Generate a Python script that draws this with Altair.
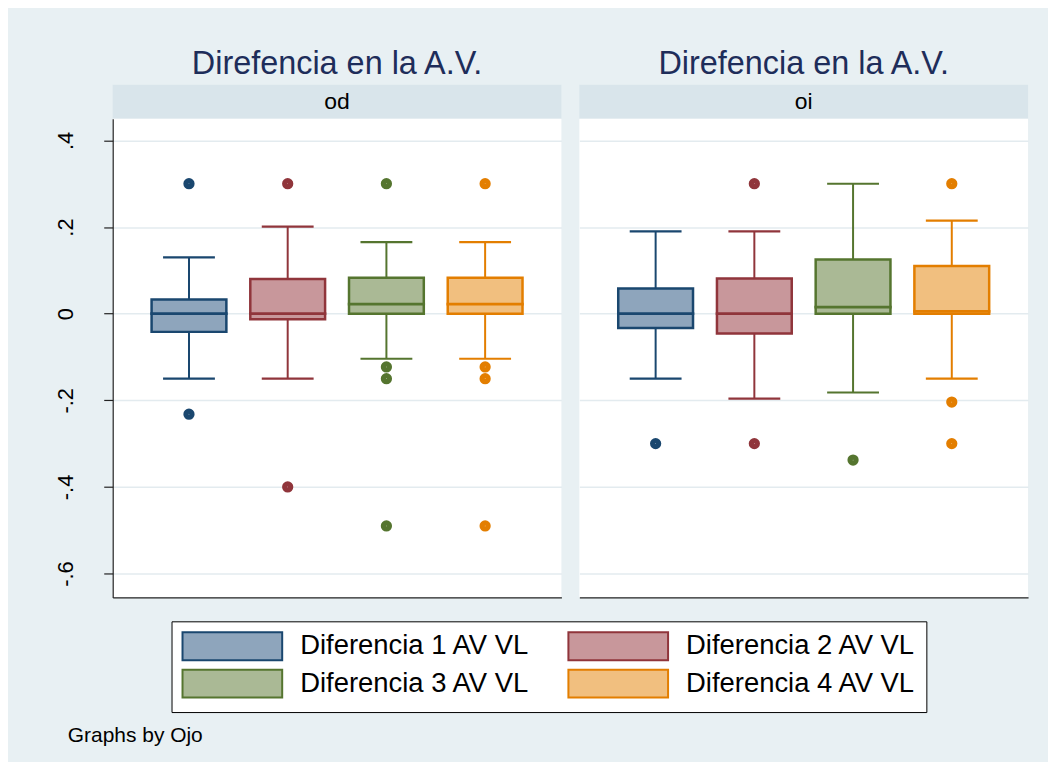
import altair as alt
import pandas as pd

# ---------------- data ----------------
series = ["Diferencia 1 AV VL", "Diferencia 2 AV VL", "Diferencia 3 AV VL", "Diferencia 4 AV VL"]
fill_colors = ["#8ea5bc", "#c8979b", "#aab995", "#f1bf7f"]
stroke_colors = ["#1a476f", "#90353b", "#55752f", "#e37e00"]

panel_names = ["od", "oi"]
panel_title = "Direfencia en la A.V."

od_whisker_low = [-0.150, -0.150, -0.104, -0.104]
od_q1 = [-0.042, -0.013, 0.000, 0.000]
od_median = [0.000, 0.000, 0.022, 0.022]
od_q3 = [0.033, 0.080, 0.083, 0.083]
od_whisker_high = [0.130, 0.201, 0.165, 0.165]
od_outliers = [[0.30, -0.232], [0.30, -0.40], [0.30, -0.123, -0.15, -0.49], [0.30, -0.123, -0.15, -0.49]]

oi_whisker_low = [-0.150, -0.196, -0.182, -0.150]
oi_q1 = [-0.033, -0.046, 0.000, 0.000]
oi_median = [0.000, 0.000, 0.015, 0.0055]
oi_q3 = [0.058, 0.081, 0.125, 0.110]
oi_whisker_high = [0.190, 0.190, 0.300, 0.215]
oi_outliers = [[-0.30], [0.30, -0.30], [-0.338], [0.30, -0.204, -0.30]]

tick_values = [-0.6, -0.4, -0.2, 0.0, 0.2, 0.4]
tick_labels = ["-.6", "-.4", "-.2", "0", ".2", ".4"]

footnote = "Graphs by Ojo"

# ---------------- styling ----------------
FONT = "Liberation Sans"
BG = "#e8f0f3"
STRIP = "#d9e5eb"
GRID = "#e3ebef"
PW, PH, SH = 450, 480, 34
Y_DOMAIN = [-0.655, 0.45]

label_expr = "".join(
    f"datum.value > {v - 0.01} && datum.value < {v + 0.01} ? '{t}' : " for v, t in zip(tick_values, tick_labels)
) + "''"


def make_panel(name, lo, q1, med, q3, hi, outl, show_axis):
    box_df = pd.DataFrame({"serie": series, "lo": lo, "q1": q1, "med": med, "q3": q3, "hi": hi})
    pts_df = pd.DataFrame([{"serie": s, "v": v} for s, vals in zip(series, outl) for v in vals])

    x = alt.X(
        "serie:N",
        sort=series,
        scale=alt.Scale(domain=series, paddingInner=0, paddingOuter=0.2727),
        axis=alt.Axis(labels=False, ticks=False, title=None, grid=False,
                      domain=True, domainColor="#222222", domainWidth=1.2),
    )
    if show_axis:
        yaxis = alt.Axis(values=tick_values, labelExpr=label_expr, title=None, grid=True,
                         gridColor=GRID, gridWidth=1.5, tickSize=9, tickColor="#222222",
                         tickWidth=1.2, domain=True, domainColor="#222222", domainWidth=1.2,
                         labelAngle=270, labelAlign="center", labelBaseline="bottom",
                         labelPadding=26, labelFontSize=22, labelColor="black", labelFont=FONT)
    else:
        yaxis = alt.Axis(values=tick_values, labels=False, ticks=False, domain=False, title=None,
                         grid=True, gridColor=GRID, gridWidth=1.5)
    yscale = alt.Scale(domain=Y_DOMAIN, nice=False, zero=False)

    fill_enc = alt.Fill("serie:N", scale=alt.Scale(domain=series, range=fill_colors), title=None)
    stroke_enc = alt.Stroke("serie:N", scale=alt.Scale(domain=series, range=stroke_colors), title=None)

    base = alt.Chart(box_df)
    box = base.mark_bar(size=75, strokeWidth=2.5, opacity=1).encode(
        x=x, y=alt.Y("q1:Q", scale=yscale, axis=yaxis), y2="q3:Q", fill=fill_enc, stroke=stroke_enc)
    whisk_up = base.mark_rule(strokeWidth=2).encode(
        x=x, y=alt.Y("q3:Q", scale=yscale, axis=yaxis), y2="hi:Q", stroke=stroke_enc)
    whisk_dn = base.mark_rule(strokeWidth=2).encode(
        x=x, y=alt.Y("lo:Q", scale=yscale, axis=yaxis), y2="q1:Q", stroke=stroke_enc)
    median = base.mark_tick(orient="horizontal", size=75, thickness=0.2, filled=False,
                            strokeWidth=2.5, opacity=1).encode(
        x=x, y=alt.Y("med:Q", scale=yscale, axis=yaxis), stroke=stroke_enc)
    cap_lo = base.mark_tick(orient="horizontal", size=50, thickness=0.2, filled=False,
                            strokeWidth=2, opacity=1).encode(
        x=x, y=alt.Y("lo:Q", scale=yscale, axis=yaxis), stroke=stroke_enc)
    cap_hi = base.mark_tick(orient="horizontal", size=50, thickness=0.2, filled=False,
                            strokeWidth=2, opacity=1).encode(
        x=x, y=alt.Y("hi:Q", scale=yscale, axis=yaxis), stroke=stroke_enc)
    points = alt.Chart(pts_df).mark_point(shape="circle", filled=False, size=28, strokeWidth=6,
                                          opacity=1).encode(
        x=x, y=alt.Y("v:Q", scale=yscale, axis=yaxis), stroke=stroke_enc)

    plot = alt.layer(box, whisk_up, whisk_dn, median, cap_lo, cap_hi, points).properties(
        width=PW, height=PH, view=alt.ViewBackground(fill="white", strokeWidth=0))

    strip = alt.Chart(pd.DataFrame({"ojo": [name]})).mark_text(
        fontSize=23, font=FONT, color="black", baseline="middle", align="center"
    ).encode(text="ojo:N").properties(
        width=PW, height=SH, view=alt.ViewBackground(fill=STRIP, strokeWidth=0))

    title_dx = 29 if show_axis else 0
    return alt.vconcat(strip, plot, spacing=0, bounds="flush").properties(
        title=alt.TitleParams(panel_title, fontSize=32.5, font=FONT, fontWeight="normal",
                              color="#1e2d5a", offset=4.5, anchor="middle", dx=title_dx))


p1 = make_panel(panel_names[0], od_whisker_low, od_q1, od_median, od_q3, od_whisker_high, od_outliers, True)
p2 = make_panel(panel_names[1], oi_whisker_low, oi_q1, oi_median, oi_q3, oi_whisker_high, oi_outliers, False)

chart = alt.hconcat(p1, p2, spacing=18).properties(
    title=alt.TitleParams(footnote, orient="bottom", anchor="start", fontSize=21, font=FONT,
                          fontWeight="normal", color="black", offset=13, dx=13)
).configure(
    background=BG, padding={"left": 47, "top": 39, "right": 20, "bottom": 14}, font=FONT
).configure_view(strokeWidth=0).configure_legend(
    orient="none", legendX=59, legendY=538, columns=2, direction="horizontal",
    fillColor="white", strokeColor="black", padding=10,
    rowPadding=1.5, columnPadding=34,
    symbolType="M-3.57,-1H3.57V1H-3.57Z", symbolSize=784, symbolStrokeWidth=2,
    symbolOffset=36, labelOffset=53, symbolOpacity=1,
    labelFontSize=27.5, labelFont=FONT, labelColor="black", labelLimit=400,
).configure_concat(spacing=18)

chart.save("out.html", embed_options={"renderer": "svg", "actions": False})
